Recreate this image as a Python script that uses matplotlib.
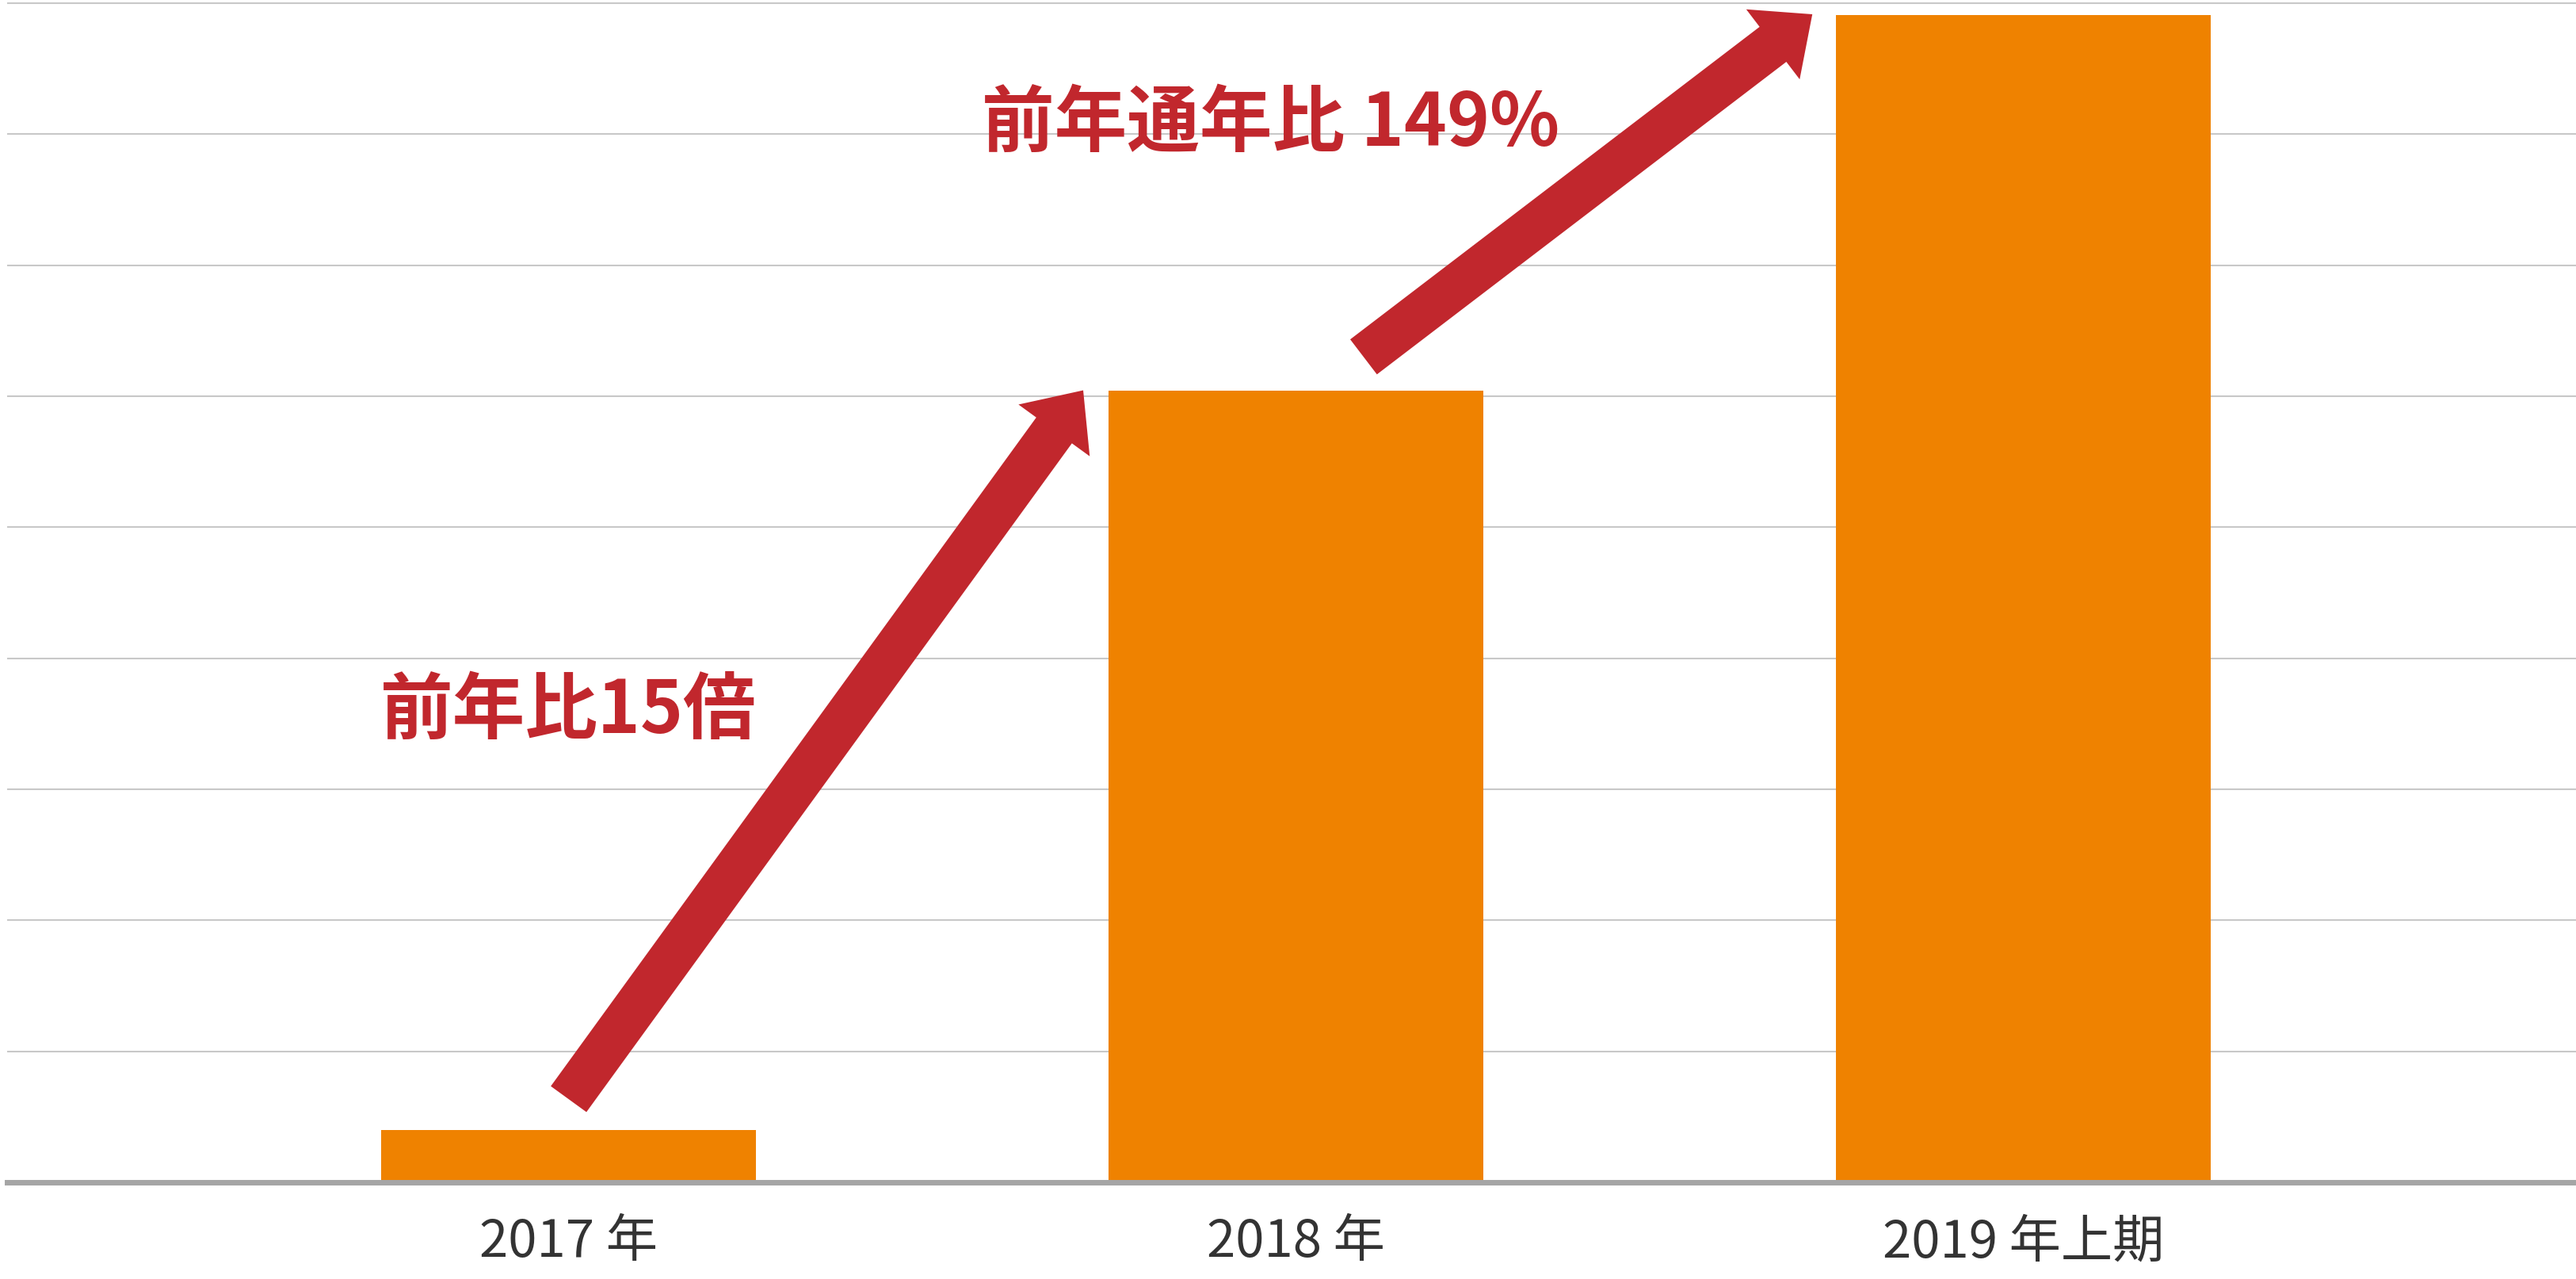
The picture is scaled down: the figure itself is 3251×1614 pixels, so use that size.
import matplotlib
matplotlib.use("Agg")
import matplotlib.pyplot as plt
from matplotlib.patches import FancyArrowPatch

plt.rcParams['font.family'] = ['Noto Sans CJK JP', 'DejaVu Sans']

# data (one grid step = 1 unit)
categories = ['2017 年', '2018 年', '2019 年上期']
values = [0.40, 6.04, 8.91]

# growth notes and the arrows that go with them (data coords)
notes = ['前年比15倍', '前年通年比 149%']
note_pos = [(0.0, 3.60), (0.965, 8.08)]
arrow_from = [(0.0, 0.635), (1.093, 6.30)]
arrow_to = [(0.7075, 6.045), (1.71, 8.915)]

bar_color = '#ef8200'
red = '#c1272d'

fig = plt.figure(figsize=(32.51, 16.15), dpi=100)
ax = fig.add_axes([9 / 3251, 1 - 1493 / 1615, 1 - 9 / 3251, 1493 / 1615])

x = list(range(len(categories)))
ax.bar(x, values, width=0.515, color=bar_color, zorder=2)

ax.set_xlim(-0.772, 2.76)
ax.set_ylim(0, 9.03)
ax.set_yticks(range(0, 10))
ax.set_yticklabels([])
ax.yaxis.grid(True, color='#c8c8c8', linewidth=1.5, zorder=0)
ax.set_axisbelow(True)
ax.tick_params(axis='y', length=0)

ax.set_xticks(x)
ax.set_xticklabels(categories, fontsize=47, color='#333333',
                   family=['Liberation Sans Narrow', 'Noto Sans CJK JP'])
ax.tick_params(axis='x', length=0, pad=30)

for s in ['top', 'left', 'right']:
    ax.spines[s].set_visible(False)
ax.spines['bottom'].set_color('#a5a5a5')
ax.spines['bottom'].set_linewidth(5)
ax.spines['bottom'].set_zorder(3)

for a, b in zip(arrow_from, arrow_to):
    arr = FancyArrowPatch(a, b, arrowstyle='simple,head_length=45,head_width=80,tail_width=40',
                          mutation_scale=1, shrinkA=0, shrinkB=0,
                          color=red, linewidth=0, zorder=4)
    ax.add_patch(arr)

for t, (tx, ty) in zip(notes, note_pos):
    ax.text(tx, ty, t, fontsize=66, fontweight='bold', color=red,
            ha='center', va='center', zorder=5)

fig.savefig('out.png', dpi=100)
